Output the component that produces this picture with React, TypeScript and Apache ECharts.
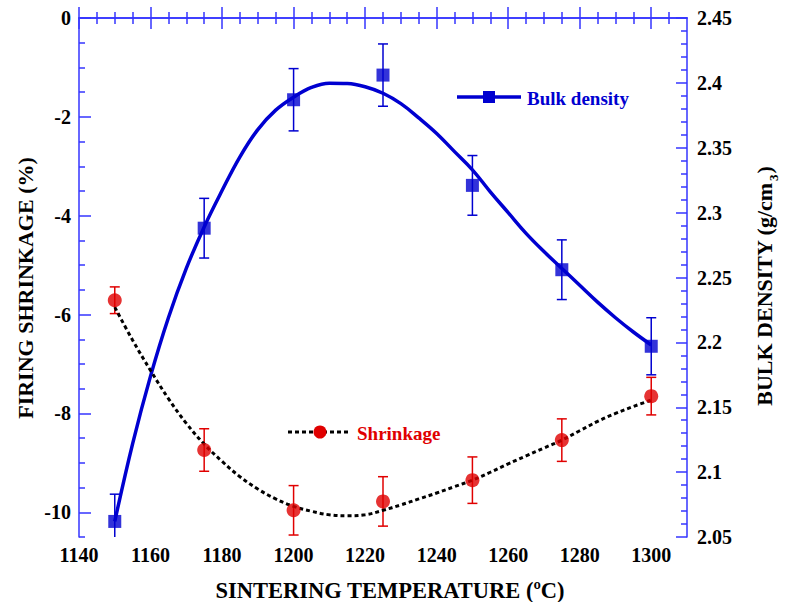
import React, { useEffect, useRef } from "react";
import * as echarts from "echarts";

// Measured points: sintering temperature (ºC)
const temps = [1150, 1175, 1200, 1225, 1250, 1275, 1300];
// Firing shrinkage (%) and its uncertainty
const shrinkage = [-5.71, -8.74, -9.96, -9.78, -9.35, -8.54, -7.65];
const shrinkageErr = [0.27, 0.43, 0.5, 0.5, 0.47, 0.43, 0.38];
// Bulk density (g/cm3) and its uncertainty
const density = [2.062, 2.288, 2.387, 2.406, 2.321, 2.256, 2.197];
const densityErr = [0.021, 0.023, 0.024, 0.024, 0.023, 0.023, 0.022];

// Fitted trend curves, sampled every 5 ºC
const fitTemps = [1150, 1155, 1160, 1165, 1170, 1175, 1180, 1185, 1190, 1195, 1200, 1205, 1210, 1215, 1220, 1225, 1230, 1235, 1240, 1245, 1250, 1255, 1260, 1265, 1270, 1275, 1280, 1285, 1290, 1295, 1300];
const densityFit = [2.062, 2.122, 2.174, 2.219, 2.257, 2.289, 2.317, 2.343, 2.364, 2.379, 2.389, 2.3965, 2.3998, 2.3995, 2.397, 2.392, 2.384, 2.373, 2.361, 2.347, 2.333, 2.316, 2.300, 2.284, 2.270, 2.257, 2.244, 2.231, 2.219, 2.208, 2.198];
const shrinkFit = [-5.85, -6.52, -7.13, -7.70, -8.20, -8.62, -8.97, -9.28, -9.53, -9.73, -9.88, -9.98, -10.05, -10.07, -10.05, -9.96, -9.85, -9.73, -9.61, -9.48, -9.35, -9.19, -9.02, -8.86, -8.70, -8.54, -8.35, -8.16, -8.00, -7.86, -7.73];

// Axis ticks
const xMajorTicks = [1140, 1160, 1180, 1200, 1220, 1240, 1260, 1280, 1300];
const xMinorTicks = [1145, 1150, 1155, 1165, 1170, 1175, 1185, 1190, 1195, 1205, 1210, 1215, 1225, 1230, 1235, 1245, 1250, 1255, 1265, 1270, 1275, 1285, 1290, 1295, 1305];
const leftMajorTicks = [0, -2, -4, -6, -8, -10];
const leftMinorTicks = [-0.5, -1, -1.5, -2.5, -3, -3.5, -4.5, -5, -5.5, -6.5, -7, -7.5, -8.5, -9, -9.5, -10.5];
const rightMajorTicks = [2.05, 2.1, 2.15, 2.2, 2.25, 2.3, 2.35, 2.4, 2.45];
const rightMinorTicks = [2.06, 2.07, 2.08, 2.09, 2.11, 2.12, 2.13, 2.14, 2.16, 2.17, 2.18, 2.19, 2.21, 2.22, 2.23, 2.24, 2.26, 2.27, 2.28, 2.29, 2.31, 2.32, 2.33, 2.34, 2.36, 2.37, 2.38, 2.39, 2.41, 2.42, 2.43, 2.44];

const FONT = "Liberation Serif";
const AXIS_BLUE = "#3535ff";
const BLUE = "#0000d0";
const RED = "#e00000";

const labelStyle = {
  color: "#000",
  fontFamily: FONT,
  fontWeight: "bold" as const,
  fontSize: 20,
};

const tickLine = { color: AXIS_BLUE, width: 1.5 };

function textWidth(text: string, size: number) {
  const ctx = document.createElement("canvas").getContext("2d");
  if (!ctx) return text.length * size * 0.5;
  ctx.font = `bold ${size}px "${FONT}"`;
  return ctx.measureText(text).width;
}

// Vertical error bar with caps, kept inside the plotting area
function errorBars(color: string) {
  return (params: any, api: any) => {
    const box = params.coordSys;
    const top = box.y;
    const bottom = box.y + box.height;
    const x = api.value(0);
    const lo = api.coord([x, api.value(1)]);
    const hi = api.coord([x, api.value(2)]);
    const yLo = Math.min(lo[1], bottom);
    const yHi = Math.max(hi[1], top);
    const hw = 5;
    const style = { stroke: color, lineWidth: 1.5 };
    const children: any[] = [
      { type: "line", shape: { x1: lo[0], y1: yLo, x2: hi[0], y2: yHi }, style },
    ];
    if (lo[1] <= bottom) children.push({ type: "line", shape: { x1: lo[0] - hw, y1: yLo, x2: lo[0] + hw, y2: yLo }, style });
    if (hi[1] >= top) children.push({ type: "line", shape: { x1: hi[0] - hw, y1: yHi, x2: hi[0] + hw, y2: yHi }, style });
    return { type: "group", children };
  };
}

// Axis with major ticks (grid 0) or minor ticks only (grid 1)
function xAxis(position: "bottom" | "top", gridIndex: number, ticks: number[], length: number, labels: boolean) {
  return {
    type: "value",
    gridIndex,
    position,
    min: 1140,
    max: 1310,
    splitLine: { show: false },
    axisLine: { show: gridIndex === 0, lineStyle: tickLine },
    axisTick: { show: true, inside: true, length, customValues: ticks, lineStyle: tickLine },
    axisLabel: labels
      ? { show: true, customValues: ticks, margin: 8, formatter: (v: number) => String(v), ...labelStyle }
      : { show: false },
  };
}

function yAxis(position: "left" | "right", gridIndex: number, min: number, max: number, ticks: number[], length: number, margin: number) {
  return {
    type: "value",
    gridIndex,
    position,
    min,
    max,
    splitLine: { show: false },
    axisLine: { show: gridIndex === 0, lineStyle: tickLine },
    axisTick: { show: true, inside: true, length, customValues: ticks, lineStyle: tickLine },
    axisLabel: gridIndex === 0
      ? { show: true, customValues: ticks, margin, formatter: (v: number) => String(v), ...labelStyle }
      : { show: false },
  };
}

// Right axis title with a subscript, laid out along the rotated baseline
function densityTitle() {
  const size = 22;
  const subSize = 13;
  const head = "BULK DENSITY (g/cm";
  const sub = "3";
  const tail = ")";
  const wHead = textWidth(head, size);
  const wSub = textWidth(sub, subSize);
  const wTail = textWidth(tail, size);
  const total = wHead + wSub + wTail + 2;
  const start = -total / 2;
  const base = { fill: "#000", fontFamily: FONT, fontWeight: "bold", align: "left", verticalAlign: "middle" };
  return {
    type: "group",
    x: 764,
    y: 286,
    rotation: Math.PI / 2,
    children: [
      { type: "text", x: start, y: 0, style: { ...base, text: head, fontSize: size } },
      { type: "text", x: start + wHead + 1, y: 9, style: { ...base, text: sub, fontSize: subSize } },
      { type: "text", x: start + wHead + wSub + 2, y: 0, style: { ...base, text: tail, fontSize: size } },
    ],
  };
}

export default function App() {
  const ref = useRef<HTMLDivElement>(null);

  useEffect(() => {
    if (!ref.current) return;
    const chart = echarts.init(ref.current, null, { renderer: "svg" });
    const gridBox = { left: 79, right: 99, top: 18, bottom: 65, containLabel: false, outerBoundsMode: "none" };

    chart.setOption({
      animation: false,
      backgroundColor: "#fff",
      grid: [gridBox, { ...gridBox }],
      xAxis: [
        xAxis("bottom", 0, xMajorTicks, 11, true),
        xAxis("top", 0, xMajorTicks, 11, false),
        xAxis("bottom", 1, xMinorTicks, 6, false),
        xAxis("top", 1, xMinorTicks, 6, false),
      ],
      yAxis: [
        yAxis("left", 0, -10.5, 0, leftMajorTicks, 12, 8),
        yAxis("right", 0, 2.05, 2.45, rightMajorTicks, 11, 10),
        yAxis("left", 1, -10.5, 0, leftMinorTicks, 6, 8),
        yAxis("right", 1, 2.05, 2.45, rightMinorTicks, 6, 10),
      ],
      series: [
        {
          name: "Shrinkage error",
          type: "custom",
          xAxisIndex: 0,
          yAxisIndex: 0,
          renderItem: errorBars(RED),
          encode: { x: 0, y: [1, 2] },
          data: temps.map((t, i) => [t, shrinkage[i] - shrinkageErr[i], shrinkage[i] + shrinkageErr[i]]),
          z: 2,
        },
        {
          name: "Bulk density error",
          type: "custom",
          xAxisIndex: 0,
          yAxisIndex: 1,
          renderItem: errorBars(BLUE),
          encode: { x: 0, y: [1, 2] },
          data: temps.map((t, i) => [t, density[i] - densityErr[i], density[i] + densityErr[i]]),
          z: 2,
        },
        {
          name: "Bulk density fit",
          type: "line",
          xAxisIndex: 0,
          yAxisIndex: 1,
          smooth: 0.4,
          showSymbol: false,
          symbol: "none",
          lineStyle: { color: BLUE, width: 3.5 },
          data: fitTemps.map((t, i) => [t, densityFit[i]]),
          z: 3,
        },
        {
          name: "Shrinkage fit",
          type: "line",
          xAxisIndex: 0,
          yAxisIndex: 0,
          smooth: 0.4,
          showSymbol: false,
          symbol: "none",
          lineStyle: { color: "#000", width: 3, type: [4, 3] },
          data: fitTemps.map((t, i) => [t, shrinkFit[i]]),
          z: 3,
        },
        {
          name: "Bulk density",
          type: "scatter",
          xAxisIndex: 0,
          yAxisIndex: 1,
          symbol: "rect",
          symbolSize: 13,
          itemStyle: { color: BLUE },
          data: temps.map((t, i) => [t, density[i]]),
          z: 4,
        },
        {
          name: "Shrinkage",
          type: "scatter",
          xAxisIndex: 0,
          yAxisIndex: 0,
          symbol: "circle",
          symbolSize: 14,
          itemStyle: { color: RED },
          data: temps.map((t, i) => [t, shrinkage[i]]),
          z: 4,
        },
      ],
      graphic: [
        // Legend: bulk density
        { type: "line", shape: { x1: 457, y1: 97, x2: 521, y2: 97 }, style: { stroke: BLUE, lineWidth: 3.5 }, z: 10 },
        { type: "rect", shape: { x: 483, y: 91, width: 12, height: 12 }, style: { fill: BLUE }, z: 11 },
        {
          type: "text", x: 527, y: 98, z: 11,
          style: { text: "Bulk density", fill: BLUE, fontFamily: FONT, fontWeight: "bold", fontSize: 19, align: "left", verticalAlign: "middle" },
        },
        // Legend: shrinkage
        { type: "line", shape: { x1: 288, y1: 432, x2: 350, y2: 432 }, style: { stroke: "#000", lineWidth: 3, lineDash: [4, 3] }, z: 10 },
        { type: "circle", shape: { cx: 320, cy: 432, r: 6.5 }, style: { fill: RED }, z: 11 },
        {
          type: "text", x: 357, y: 433, z: 11,
          style: { text: "Shrinkage", fill: RED, fontFamily: FONT, fontWeight: "bold", fontSize: 19, align: "left", verticalAlign: "middle" },
        },
        // Axis titles
        {
          type: "text", x: 390, y: 590, z: 11,
          style: { text: "SINTERING TEMPERATURE (ºC)", fill: "#000", fontFamily: FONT, fontWeight: "bold", fontSize: 22.5, align: "center", verticalAlign: "middle" },
        },
        {
          type: "text", x: 25, y: 288, rotation: Math.PI / 2, z: 11,
          style: { text: "FIRING SHRINKAGE (%)", fill: "#000", fontFamily: FONT, fontWeight: "bold", fontSize: 22, align: "center", verticalAlign: "middle" },
        },
        densityTitle(),
      ],
    });

    return () => chart.dispose();
  }, []);

  return <div ref={ref} style={{ position: "absolute", left: 0, top: 0, width: 786, height: 602 }} />;
}
